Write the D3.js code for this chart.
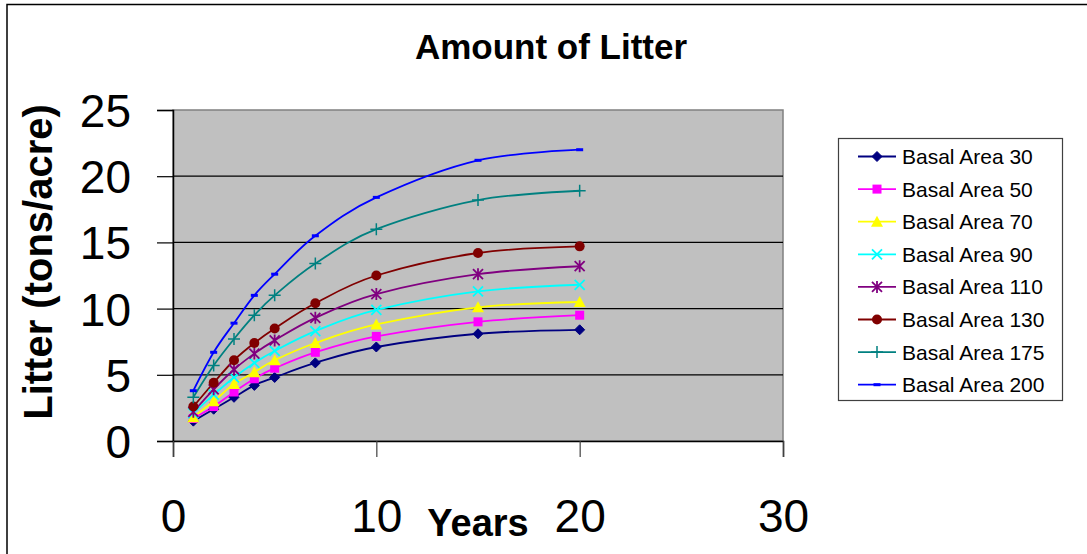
<!DOCTYPE html>
<html>
<head>
<meta charset="utf-8">
<script src="https://cdn.jsdelivr.net/npm/d3@7"></script>
<style>
  html, body { margin: 0; padding: 0; background: #ffffff; }
  svg { display: block; }
  text { font-family: "Liberation Sans", Arial, sans-serif; }
</style>
</head>
<body>
<svg id="chart" width="1087" height="554"></svg>
<script>
// ---- Data ----
const years = [1, 2, 3, 4, 5, 7, 10, 15, 20];
const seriesNames = ["Basal Area 30", "Basal Area 50", "Basal Area 70", "Basal Area 90",
                     "Basal Area 110", "Basal Area 130", "Basal Area 175", "Basal Area 200"];
const ba30  = [1.5, 2.4, 3.3, 4.2, 4.8, 5.9, 7.1, 8.1, 8.4];
const ba50  = [1.7, 2.6, 3.7, 4.7, 5.5, 6.7, 7.9, 9.0, 9.5];
const ba70  = [1.8, 3.0, 4.3, 5.2, 6.1, 7.4, 8.8, 10.1, 10.5];
const ba90  = [2.1, 3.5, 4.8, 5.9, 6.8, 8.3, 9.9, 11.3, 11.8];
const ba110 = [2.2, 3.9, 5.4, 6.6, 7.6, 9.3, 11.1, 12.6, 13.2];
const ba130 = [2.6, 4.4, 6.1, 7.4, 8.5, 10.4, 12.5, 14.2, 14.7];
const ba175 = [3.3, 5.7, 7.7, 9.5, 11.0, 13.4, 16.0, 18.2, 18.9];
const ba200 = [3.8, 6.7, 8.9, 11.0, 12.6, 15.5, 18.4, 21.2, 22.0];
const seriesValues = [ba30, ba50, ba70, ba90, ba110, ba130, ba175, ba200];
const xTicks = [0, 10, 20, 30];
const yTicks = [0, 5, 10, 15, 20, 25];
const titleText = "Amount of Litter";
const xTitle = "Years";
const yTitle = "Litter (tons/acre)";

// ---- Styles ----
const colors  = ["#000080", "#FF00FF", "#FFFF00", "#00FFFF", "#800080", "#800000", "#008080", "#0000FF"];
const markers = ["diamond", "square", "triangle", "x", "star", "circle", "plus", "dash"];

const svg = d3.select("#chart");

// outer frame
svg.append("rect").attr("x", 7).attr("y", 4.5).attr("width", 1200).attr("height", 700)
  .attr("fill", "#fff").attr("stroke", "#000").attr("stroke-width", 1.5);

const x = d3.scaleLinear().domain([0, 30]).range([173, 783]);
const y = d3.scaleLinear().domain([0, 25]).range([441, 110]);

// plot area
svg.append("rect").attr("x", x(0)).attr("y", y(25)).attr("width", x(30) - x(0)).attr("height", y(0) - y(25))
  .attr("fill", "#C0C0C0").attr("stroke", "#808080").attr("stroke-width", 1.5);

// gridlines
svg.append("g").selectAll("line").data(yTicks.filter(d => d > 0 && d < 25)).join("line")
  .attr("x1", x(0)).attr("x2", x(30)).attr("y1", d => y(d)).attr("y2", d => y(d))
  .attr("stroke", "#000").attr("stroke-width", 1.2);

// y axis
const yAxis = svg.append("g").attr("transform", `translate(${x(0)},0)`)
  .call(d3.axisLeft(y).tickValues(yTicks).tickSize(16).tickFormat(d3.format("d")));
yAxis.select(".domain").attr("stroke", "#000").attr("stroke-width", 1.5);
yAxis.selectAll(".tick line").attr("stroke", "#000").attr("stroke-width", 1.2);
yAxis.selectAll(".tick text").attr("font-size", 46).attr("fill", "#000")
  .attr("x", 131 - x(0)).attr("dy", "0.36em").attr("text-anchor", "end");

// x axis
const xAxis = svg.append("g").attr("transform", `translate(0,${y(0)})`)
  .call(d3.axisBottom(x).tickValues(xTicks).tickSize(16).tickFormat(d3.format("d")));
xAxis.select(".domain").attr("stroke", "#000").attr("stroke-width", 1.5);
xAxis.selectAll(".tick line").attr("stroke", "#404040").attr("stroke-width", 1.2);
xAxis.selectAll(".tick text").attr("font-size", 46).attr("fill", "#000")
  .attr("y", 532 - y(0)).attr("dy", 0);

// title & axis titles
svg.append("text").attr("x", 551).attr("y", 59).attr("text-anchor", "middle")
  .attr("font-size", 35).attr("font-weight", "bold").text(titleText);
svg.append("text").attr("x", 478).attr("y", 536).attr("text-anchor", "middle")
  .attr("font-size", 38).attr("font-weight", "bold").text(xTitle);
svg.append("text").attr("transform", "translate(51.5,262) rotate(-90)").attr("text-anchor", "middle")
  .attr("font-size", 40).attr("font-weight", "bold").text(yTitle);

// marker drawing
function drawMarker(g, type, color) {
  switch (type) {
    case "diamond":
      g.append("path").attr("d", "M0,-5L5,0L0,5L-5,0Z").attr("fill", color).attr("stroke", color); break;
    case "square":
      g.append("rect").attr("x", -4.5).attr("y", -4.5).attr("width", 9).attr("height", 9).attr("fill", color); break;
    case "triangle":
      g.append("path").attr("d", "M0,-6L6,5L-6,5Z").attr("fill", color); break;
    case "x":
      g.append("path").attr("d", "M-5,-5L5,5M-5,5L5,-5").attr("stroke", color).attr("stroke-width", 1.8).attr("fill", "none"); break;
    case "star":
      g.append("path").attr("d", "M-5,-5L5,5M-5,5L5,-5M0,-6L0,6").attr("stroke", color).attr("stroke-width", 1.8).attr("fill", "none"); break;
    case "circle":
      g.append("circle").attr("r", 5).attr("fill", color); break;
    case "plus":
      g.append("path").attr("d", "M-6,0L6,0M0,-6L0,6").attr("stroke", color).attr("stroke-width", 1.5).attr("fill", "none"); break;
    case "dash":
      g.append("rect").attr("x", -3.5).attr("y", -1.5).attr("width", 7).attr("height", 3).attr("fill", color); break;
  }
}

const line = d3.line().x(d => x(d[0])).y(d => y(d[1])).curve(d3.curveCatmullRom.alpha(0));

const plot = svg.append("g");
seriesValues.forEach((vals, i) => {
  const pts = years.map((yr, j) => [yr, vals[j]]);
  plot.append("path").datum(pts).attr("d", line)
    .attr("fill", "none").attr("stroke", colors[i]).attr("stroke-width", 1.8);
});
seriesValues.forEach((vals, i) => {
  years.forEach((yr, j) => {
    const g = plot.append("g").attr("transform", `translate(${x(yr)},${y(vals[j])})`);
    drawMarker(g, markers[i], colors[i]);
  });
});

// legend
const lg = svg.append("g");
lg.append("rect").attr("x", 838.5).attr("y", 138.5).attr("width", 224).attr("height", 262)
  .attr("fill", "#fff").attr("stroke", "#404040").attr("stroke-width", 1.2);
seriesNames.forEach((name, i) => {
  const cy = 156.5 + i * 32.6;
  lg.append("line").attr("x1", 858).attr("x2", 896).attr("y1", cy).attr("y2", cy)
    .attr("stroke", colors[i]).attr("stroke-width", 1.8);
  const g = lg.append("g").attr("transform", `translate(877,${cy})`);
  drawMarker(g, markers[i], colors[i]);
  lg.append("text").attr("x", 902).attr("y", cy).attr("dy", "0.36em")
    .attr("font-size", 21).attr("fill", "#000").text(name);
});
</script>
</body>
</html>
